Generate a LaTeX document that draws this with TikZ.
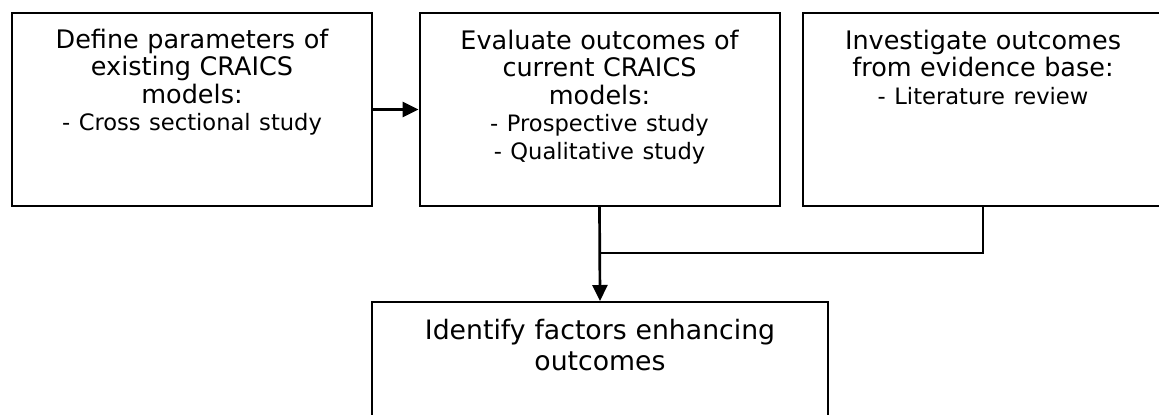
\documentclass[tikz,border=0pt]{standalone}
\usepackage{fontspec}
\setmainfont{DejaVu Sans}
\usetikzlibrary{arrows.meta}
\newcommand{\boxfont}{\fontsize{12.75}{13.75}\selectfont\lineskiplimit=-100pt}
\newcommand{\itemfont}{\fontsize{11.3}{13.75}\selectfont}
\newcommand{\resultfont}{\fontsize{13.35}{15.85}\selectfont\lineskiplimit=-100pt}

\begin{document}
\begin{tikzpicture}[
    x=0.5pt, y=-0.5pt,
    box/.style={draw, line width=1pt, minimum width=180pt, minimum height=96.5pt, inner sep=0pt},
    boxtext/.style={anchor=base, align=center, text width=172pt, inner sep=0pt, font=\boxfont},
    link/.style={line width=1.35pt},
    arrow/.style={link, -{Triangle[length=8pt, width=7.5pt]}}
]
    \useasboundingbox (0,0) rectangle (1159,414);

    % --- Top row of studies ---
    \node[box] (define) at (192,109.5) {};
    \node[box] (evaluate) at (599.5,109.5) {};
    \node[box] (investigate) at (983,109.5) {};

    % base anchor = first baseline (text width set)
    \node[boxtext] (define-txt) at ([yshift=-18.2pt]define.north)
        {Define parameters of\\existing CRAICS\\models:\\{\itemfont - Cross sectional study}};
    \node[boxtext] (evaluate-txt) at ([yshift=-18.5pt]evaluate.north)
        {Evaluate outcomes of\\current CRAICS\\models:\\{\itemfont - Prospective study}\\{\itemfont - Qualitative study}};
    \node[boxtext] (investigate-txt) at ([yshift=-18.5pt]investigate.north)
        {Investigate outcomes\\from evidence base:\\{\itemfont - Literature review}};

    % --- Result box (runs off the bottom) ---
    \node[box, minimum width=228pt, minimum height=64pt] (identify) at (600,366) {};
    \node[boxtext, text width=222pt, font=\resultfont] (identify-txt) at ([yshift=-19pt]identify.north)
        {Identify factors enhancing\\outcomes};

    % --- Connectors ---
    \coordinate (joint) at (600,253);
    \draw[arrow] (define.east) -- (evaluate.west);
    \draw[arrow] (evaluate.south) -- (identify.north);
    \draw[link] (investigate.south) |- (joint);

\end{tikzpicture}
\end{document}
